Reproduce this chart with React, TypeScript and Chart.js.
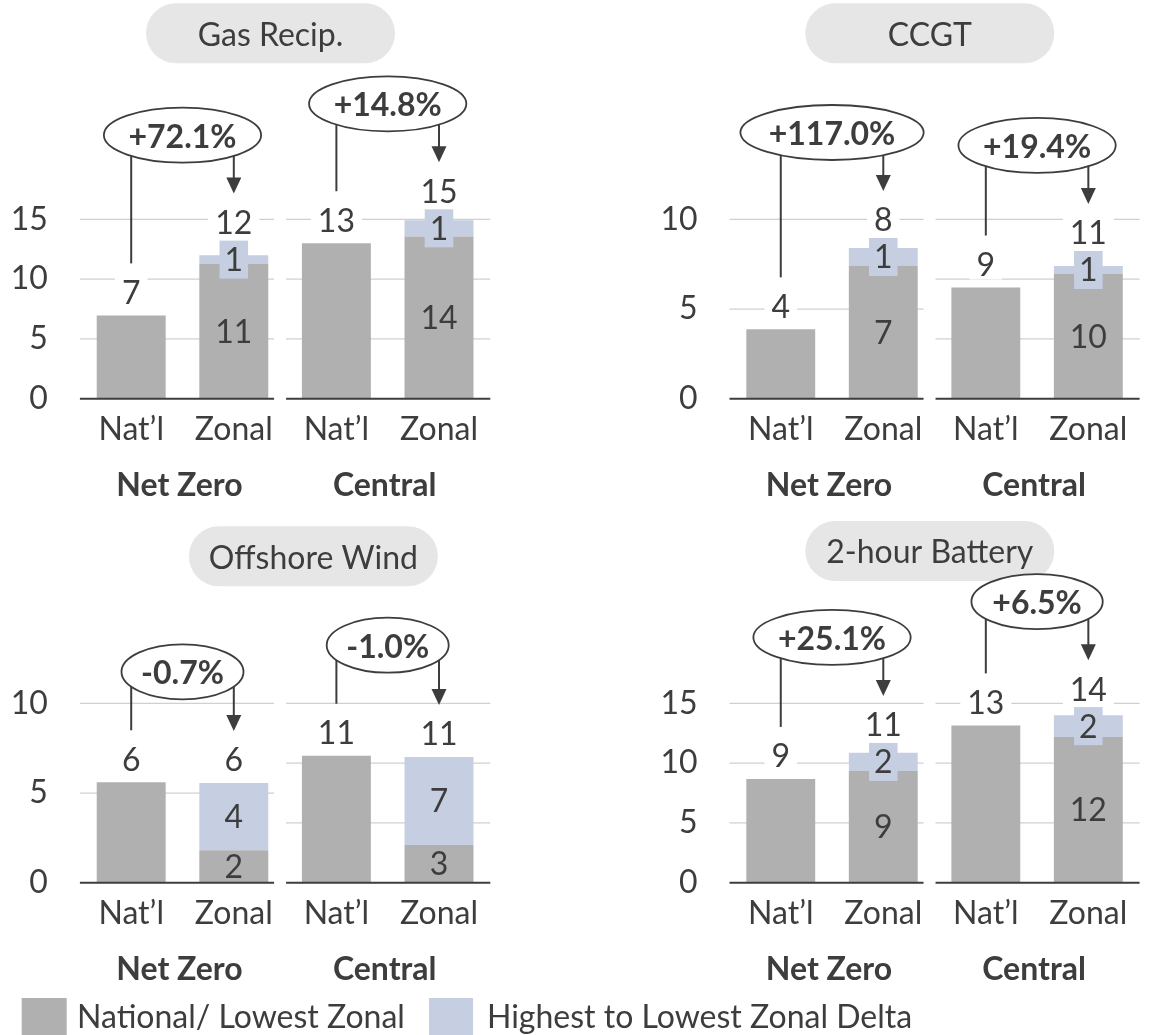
import { useEffect, useRef } from "react";
import { Chart, registerables } from "chart.js";

Chart.register(...registerables);

// Bar categories and group names
const categories = ["Nat’l", "Zonal", "Nat’l", "Zonal"];
const scenarios = ["Net Zero", "Central"];
const technologies = ["Gas Recip.", "CCGT", "Offshore Wind", "2-hour Battery"];

// Values per technology, ordered [Net Zero, Central]
const nationalCapacity = [[6.97, 13.0], [3.87, 9.3], [5.6, 10.62], [8.68, 13.15]];
const lowestZonalCapacity = [[11.27, 13.57], [7.4, 10.43], [1.82, 3.15], [9.34, 12.18]];
const zonalDelta = [[0.725, 1.354], [0.998, 0.674], [3.741, 7.364], [1.519, 1.825]];
const changeLabels = [["+72.1%", "+14.8%"], ["+117.0%", "+19.4%"], ["-0.7%", "-1.0%"], ["+25.1%", "+6.5%"]];
const axisMax = [[15, 15], [10, 15], [10, 15], [15, 15]];
const tickStep = 5;
const legendLabels = ["National/ Lowest Zonal", "Highest to Lowest Zonal Delta"];

// Styling
const FONT = "Lato, 'Noto Sans', sans-serif";
const FS = 32;
const INK = "#3d3d3d";
const GREY = "#b0b0b0";
const BLUE = "#c5cfe1";
const GRID = "#d0d0d0";
const PILL = "#e6e6e6";
const CW = 576;
const CH = 500;
const AREA_TOP = 219.3;
const AREA_BOTTOM = 398.8;
const X_AXIS_H = 70;
const GROUP_Y = 484.5;

const PANELS = [
  { left: 0, top: 0, areaLeft: 79.9, areaRight: 490.3, pillX: 270.5, pillY: 33.3 },
  { left: 576, top: 0, areaLeft: 153.5, areaRight: 563.6, pillX: 353.8, pillY: 33.3 },
  { left: 0, top: 484, areaLeft: 79.9, areaRight: 490.3, pillX: 313.4, pillY: 72.3 },
  { left: 576, top: 484, areaLeft: 153.5, areaRight: 563.6, pillX: 353.8, pillY: 67 },
];

function setFont(ctx: CanvasRenderingContext2D, bold = false) {
  ctx.font = `${bold ? "bold " : ""}${FS}px ${FONT}`;
}

// Draws text whose capital letters are vertically centred on cy
function capText(ctx: CanvasRenderingContext2D, text: string, x: number, cy: number, bold = false, align: CanvasTextAlign = "center") {
  setFont(ctx, bold);
  ctx.textAlign = align;
  ctx.textBaseline = "alphabetic";
  ctx.fillStyle = INK;
  ctx.fillText(text, x, cy + FS * 0.358);
}

function boxedText(ctx: CanvasRenderingContext2D, text: string, x: number, cy: number, fill: string, padX: number, h: number) {
  setFont(ctx);
  const w = ctx.measureText(text).width + padX * 2;
  ctx.fillStyle = fill;
  ctx.fillRect(x - w / 2, cy - h / 2, w, h);
  capText(ctx, text, x, cy);
}

function line(ctx: CanvasRenderingContext2D, x0: number, y0: number, x1: number, y1: number) {
  ctx.beginPath();
  ctx.moveTo(x0, y0);
  ctx.lineTo(x1, y1);
  ctx.stroke();
}

function groupSpans(chart: any) {
  const xs = chart.scales.x;
  const split = (xs.getPixelForValue(1) + xs.getPixelForValue(2)) / 2;
  return [
    [chart.chartArea.left, split - 11],
    [split + 1, chart.chartArea.right],
  ];
}

const AXES = ["y", "y2"];

function decorPlugin(t: number) {
  const panel = PANELS[t];
  return {
    id: "panelDecor",
    beforeDatasetsDraw(chart: any) {
      const ctx: CanvasRenderingContext2D = chart.ctx;
      ctx.save();
      // title pill
      ctx.fillStyle = PILL;
      ctx.beginPath();
      ctx.roundRect(panel.pillX - 124.5, panel.pillY - 30, 249, 60, 30);
      ctx.fill();
      capText(ctx, technologies[t], panel.pillX, panel.pillY + 1);

      // gridlines, separately for each scenario's own scale
      const spans = groupSpans(chart);
      ctx.strokeStyle = GRID;
      ctx.lineWidth = 1.2;
      AXES.forEach((id, g) => {
        const s = chart.scales[id];
        for (let v = tickStep; v <= s.max; v += tickStep) {
          const y = s.getPixelForValue(v);
          line(ctx, spans[g][0], y, spans[g][1], y);
        }
      });
      ctx.restore();
    },
    afterDatasetsDraw(chart: any) {
      const ctx: CanvasRenderingContext2D = chart.ctx;
      const spans = groupSpans(chart);
      ctx.save();
      ctx.strokeStyle = INK;
      ctx.lineWidth = 2;
      AXES.forEach((id, g) => {
        const y0 = chart.scales[id].getPixelForValue(0);
        line(ctx, spans[g][0], y0, spans[g][1], y0);
      });

      for (let g = 0; g < 2; g++) {
        const base = chart.getDatasetMeta(2 * g).data;
        const delta = chart.getDatasetMeta(2 * g + 1).data;
        const nat = base[2 * g];
        const low = base[2 * g + 1];
        const top = delta[2 * g + 1];
        const natV = nationalCapacity[t][g];
        const lowV = lowestZonalCapacity[t][g];
        const dV = zonalDelta[t][g];

        const natY = nat.y - 23;
        boxedText(ctx, String(Math.round(natV)), nat.x, natY, "#ffffff", 7, 30);

        capText(ctx, String(Math.round(lowV)), low.x, (low.y + low.base) / 2);

        const dY = (top.y + top.base) / 2;
        boxedText(ctx, String(Math.round(dV)), top.x, dY, BLUE, 5, 38);

        const totY = Math.min(top.y - 23, dY - 19 - 18);
        boxedText(ctx, String(Math.round(lowV + dV)), top.x, totY, "#ffffff", 7, 30);

        // change callout
        const e1 = natY - 29;
        const e2 = totY - 29;
        const ry = 27.5;
        const cy = Math.min(e1, e2) - 31 - ry;
        const cx = (nat.x + low.x) / 2;
        setFont(ctx, true);
        const tw = ctx.measureText(changeLabels[t][g]).width;
        const rx = (1.4 * tw + 6) / 2;

        ctx.strokeStyle = INK;
        ctx.lineWidth = 2;
        line(ctx, nat.x, cy, nat.x, e1);
        line(ctx, top.x, cy, top.x, e2 - 14);
        ctx.fillStyle = INK;
        ctx.beginPath();
        ctx.moveTo(top.x - 7.5, e2 - 16);
        ctx.lineTo(top.x + 7.5, e2 - 16);
        ctx.lineTo(top.x, e2);
        ctx.closePath();
        ctx.fill();

        ctx.beginPath();
        ctx.ellipse(cx, cy, rx, ry, 0, 0, Math.PI * 2);
        ctx.fillStyle = "#ffffff";
        ctx.fill();
        ctx.lineWidth = 1.8;
        ctx.stroke();
        capText(ctx, changeLabels[t][g], cx, cy + 1, true);

        capText(ctx, scenarios[g], cx - 3, GROUP_Y, true);
      }
      ctx.restore();
    },
  };
}

function buildConfig(t: number): any {
  const panel = PANELS[t];
  const nz = 0;
  const c = 1;
  return {
    type: "bar",
    data: {
      labels: categories,
      datasets: [
        {
          label: legendLabels[0],
          data: [nationalCapacity[t][nz], lowestZonalCapacity[t][nz], null, null],
          backgroundColor: GREY,
          yAxisID: "y",
        },
        {
          label: legendLabels[1],
          data: [null, zonalDelta[t][nz], null, null],
          backgroundColor: BLUE,
          yAxisID: "y",
        },
        {
          label: legendLabels[0],
          data: [null, null, nationalCapacity[t][c], lowestZonalCapacity[t][c]],
          backgroundColor: GREY,
          yAxisID: "y2",
        },
        {
          label: legendLabels[1],
          data: [null, null, null, zonalDelta[t][c]],
          backgroundColor: BLUE,
          yAxisID: "y2",
        },
      ],
    },
    options: {
      responsive: false,
      maintainAspectRatio: false,
      animation: false,
      devicePixelRatio: 1,
      events: [],
      barPercentage: 0.672,
      categoryPercentage: 1,
      layout: {
        padding: { left: 0, right: CW - panel.areaRight, top: AREA_TOP, bottom: CH - AREA_BOTTOM - X_AXIS_H },
      },
      plugins: { legend: { display: false }, tooltip: { enabled: false } },
      scales: {
        x: {
          stacked: true,
          grid: { display: false, drawTicks: false },
          border: { display: false },
          ticks: { font: { family: FONT, size: FS }, color: INK, padding: 12, maxRotation: 0, autoSkip: false },
          afterFit: (s: any) => {
            s.height = X_AXIS_H;
          },
        },
        y: {
          stacked: true,
          position: "left",
          min: 0,
          max: axisMax[t][nz],
          grid: { display: false, drawTicks: false },
          border: { display: false },
          ticks: { stepSize: tickStep, font: { family: FONT, size: FS }, color: INK, padding: 32 },
          afterFit: (s: any) => {
            s.width = panel.areaLeft;
          },
        },
        y2: {
          stacked: true,
          display: false,
          min: 0,
          max: axisMax[t][c],
        },
      },
    },
    plugins: [decorPlugin(t)],
  };
}

function Panel({ index }: { index: number }) {
  const ref = useRef<HTMLCanvasElement>(null);
  useEffect(() => {
    const chart = new Chart(ref.current as HTMLCanvasElement, buildConfig(index));
    let alive = true;
    if ((document as any).fonts) {
      (document as any).fonts.load(`${FS}px Lato`).then(() => alive && chart.update());
    }
    return () => {
      alive = false;
      chart.destroy();
    };
  }, [index]);
  const p = PANELS[index];
  return (
    <canvas
      ref={ref}
      width={CW}
      height={CH}
      style={{ position: "absolute", left: p.left, top: p.top, width: CW, height: CH }}
    />
  );
}

function Legend() {
  const ref = useRef<HTMLCanvasElement>(null);
  useEffect(() => {
    const draw = () => {
      const cv = ref.current;
      if (!cv) return;
      const ctx = cv.getContext("2d") as CanvasRenderingContext2D;
      ctx.clearRect(0, 0, cv.width, cv.height);
      ctx.fillStyle = GREY;
      ctx.fillRect(21.7, 8, 45, 45);
      capText(ctx, legendLabels[0], 77, 26.5, false, "left");
      ctx.fillStyle = BLUE;
      ctx.fillRect(429, 8, 44, 45);
      capText(ctx, legendLabels[1], 487, 26.5, false, "left");
    };
    draw();
    if ((document as any).fonts) (document as any).fonts.load(`${FS}px Lato`).then(draw);
  }, []);
  return (
    <canvas ref={ref} width={1152} height={45} style={{ position: "absolute", left: 0, top: 990, width: 1152, height: 45 }} />
  );
}

export default function App() {
  return (
    <div style={{ position: "absolute", left: 0, top: 0, width: 1152, height: 1035, background: "#ffffff", overflow: "hidden" }}>
      {PANELS.map((_, i) => (
        <Panel key={i} index={i} />
      ))}
      <Legend />
    </div>
  );
}
